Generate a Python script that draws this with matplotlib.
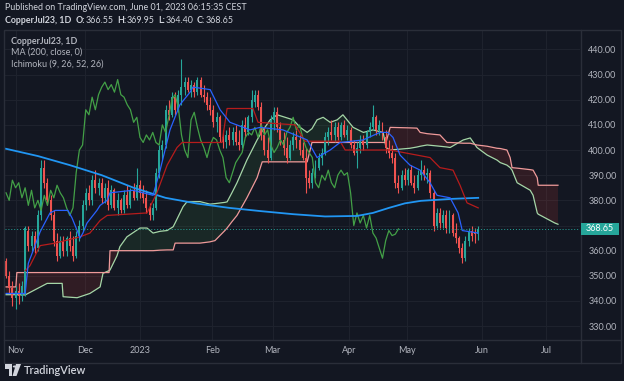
import numpy as np
import matplotlib.pyplot as plt
from matplotlib.patches import Rectangle, Polygon, Circle

# ---------------- data ----------------
opens = [356, 350, 345, 341, 344, 342, 343, 368, 362, 366,
         361, 374, 393, 387, 380, 374, 364, 358, 364, 360,
         365, 362, 358, 366, 370, 378, 383, 380, 388, 385,
         387, 381, 385, 378, 384, 377, 380, 376, 382, 378,
         384, 381, 386, 383, 381, 377, 374, 377, 391, 400,
         402, 416, 414, 421, 416, 422, 425, 427, 424, 426,
         423, 428, 422, 421, 418, 416, 411, 413, 405, 403,
         406, 404, 407, 403, 402, 410, 407, 413, 419, 422,
         417, 406, 400, 397, 412, 415, 409, 404, 401, 397,
         402, 405, 404, 400, 397, 389, 387, 391, 393, 397,
         399, 405, 407, 406, 409, 405, 410, 406, 408, 402,
         399, 401, 404, 402, 407, 409, 413, 408, 410, 405,
         401, 399, 397, 387, 385, 390, 388, 392, 387, 385,
         390, 392, 390, 391, 383, 370, 375, 371, 374, 369,
         374, 367, 365, 361, 357, 364, 368, 367, 366.55]
highs = [357, 352, 348, 346, 347, 348, 370, 370, 368, 368,
         376, 396, 396, 389, 382, 376, 367, 366, 366, 366,
         368, 366, 368, 372, 380, 385, 386, 390, 392, 389,
         389, 387, 388, 386, 385, 383, 381, 384, 386, 385,
         387, 393, 388, 386, 384, 379, 379, 393, 402, 404,
         418, 420, 423, 423, 424, 436, 429, 429, 428, 427,
         429, 429, 426, 423, 421, 418, 415, 414, 408, 408,
         409, 409, 410, 408, 412, 413, 414, 424, 424, 424,
         419, 409, 405, 414, 417, 417, 411, 407, 405, 404,
         407, 408, 406, 403, 401, 392, 393, 396, 399, 401,
         407, 409, 412, 411, 411, 411, 412, 410, 409, 404,
         403, 406, 406, 408, 411, 418, 414, 412, 411, 408,
         404, 402, 399, 390, 392, 393, 393, 394, 390, 392,
         396, 394, 393, 392, 384, 377, 377, 376, 376, 376,
         375, 371, 366, 363, 366, 369, 370, 369, 369.95]
lows = [349, 343, 338, 337, 339, 340, 342, 360, 360, 359,
        360, 372, 385, 378, 372, 362, 356, 357, 358, 358,
        360, 356, 357, 364, 368, 376, 378, 378, 383, 382,
        379, 379, 376, 377, 376, 374, 375, 375, 377, 377,
        380, 380, 381, 379, 375, 372, 372, 376, 389, 396,
        401, 412, 413, 414, 415, 418, 422, 423, 421, 421,
        422, 421, 419, 416, 414, 409, 407, 403, 401, 401,
        402, 402, 402, 400, 401, 405, 406, 411, 417, 416,
        404, 398, 395, 396, 408, 407, 402, 398, 395, 396,
        400, 401, 398, 396, 383, 385, 385, 389, 392, 394,
        398, 402, 404, 403, 404, 404, 405, 404, 401, 398,
        393, 399, 400, 401, 405, 408, 406, 406, 404, 399,
        397, 395, 385, 383, 384, 386, 386, 386, 383, 384,
        388, 388, 387, 381, 368, 369, 369, 369, 367, 367,
        366, 363, 359, 355, 356, 362, 364, 363, 364.40]
closes = [350, 345, 341, 344, 342, 346, 369, 362, 366, 361,
          374, 393, 387, 380, 374, 364, 358, 364, 360, 365,
          362, 358, 366, 370, 378, 383, 380, 388, 385, 387,
          381, 385, 378, 384, 377, 380, 376, 382, 378, 384,
          381, 386, 383, 381, 377, 374, 377, 391, 400, 402,
          416, 414, 421, 416, 422, 425, 427, 424, 426, 423,
          428, 422, 421, 418, 416, 411, 413, 405, 403, 406,
          404, 407, 403, 402, 410, 407, 413, 420, 422, 417,
          406, 400, 397, 412, 415, 409, 404, 401, 397, 402,
          405, 404, 400, 397, 389, 387, 391, 395, 397, 399,
          405, 407, 406, 409, 405, 410, 406, 408, 402, 399,
          401, 404, 402, 407, 409, 413, 408, 410, 405, 401,
          399, 397, 387, 385, 390, 388, 392, 387, 385, 390,
          392, 390, 391, 383, 370, 375, 371, 374, 369, 374,
          367, 365, 361, 357, 364, 368, 366, 366.55, 368.65]

# MA(200) read at a few bars
ma_bars = [0, 10, 20, 30, 40, 50, 60, 70, 80, 90, 100, 110, 115, 120, 125, 130, 140, 148]
ma_vals = [400.5, 397.6, 394, 390, 385, 381, 378.7, 377, 375.7, 374.5, 373.6, 373.8,
           375, 377, 378.8, 379.8, 380.6, 381]

# Ichimoku conversion (tenkan) and base (kijun) lines, read as vertices
tenkan_bars = [0, 6, 7, 8.5, 10.7, 13.8, 15.4, 19.4, 20.7, 22.3, 23.2, 24.1, 25.4, 28.5,
               29.5, 31.7, 32.6, 39.8, 46.1, 48.3, 51.4, 54.5, 57.7, 58.6, 64, 67.1, 70.2,
               76.5, 79.6, 86.8, 94.4, 97.5, 101.6, 104.7, 111.9, 117.2, 119.7, 121.3,
               123.5, 126.6, 129.8, 132.9, 135.1, 139.2, 141.7, 143, 148]
tenkan_vals = [343, 343, 355, 360, 367.5, 375, 376, 376, 373, 368, 365, 367, 371, 376,
               378, 380, 383, 384, 382, 392, 408, 418, 423, 425, 424, 416, 411,
               408, 409, 408, 404, 397, 400, 403, 404, 407, 407, 405,
               398, 394, 392, 387, 382, 381, 375, 368, 367]
kijun_bars = [6, 7.5, 10.7, 15.4, 23.2, 26.3, 29.5, 31.7, 44.2, 47.3, 50.5, 53.6, 55.2,
              67.7, 69.3, 77.4, 79, 90.6, 93.7, 104.7, 106.3, 120.4, 132.9, 136, 140.1,
              142.3, 144.5, 148]
kijun_vals = [352, 354, 362, 363, 365.5, 367, 372, 374, 375, 383, 394, 401, 403,
              403, 416.5, 416.5, 411, 410, 403.5, 403.5, 400, 400, 397, 393, 392,
              386, 379, 377]

# Leading spans A and B (cloud), read at shared bars
cloud_bars = [0, 3.1, 3.4, 6.0, 12.9, 17.6, 17.9, 22.3, 26.3, 29.5, 30.4, 32.3, 32.6,
              34.8, 35.7, 37.9, 42.0, 44.2, 46.1, 48.3, 50.5, 52.4, 53.0, 55.5, 56.7,
              60.8, 63.9, 65.5, 68.6, 69.3, 70.8, 72.4, 75.5, 78.7, 80.3, 82.8, 85.0,
              90.0, 92.2, 94.4, 95.9, 97.5, 99.4, 101.6, 103.8, 105.6, 108.8, 112.0,
              115.0, 118.2, 119.1, 120.4, 126.6, 128.8, 129.8, 132.0, 136.0, 138.2,
              139.2, 143.3, 145.5, 147.6, 150.8, 153.9, 154.9, 157.0, 158.0, 158.6,
              160.2, 164.3, 165.2, 166.5, 166.8, 168.3, 172.0, 173.0]
span_a = [342.5, 342.5, 342.5, 342.4, 347, 347, 341.7, 341.3, 343, 345.6, 351, 352.1, 352.3,
          358, 361.6, 365.5, 369, 369, 367, 367.7, 368, 369.5, 371, 377.5, 379.4,
          379.5, 378.5, 378.7, 379.2, 379.4, 383, 387, 396, 404, 407.5, 412, 414,
          412, 409, 407, 408.5, 412, 413, 411, 412, 414, 409, 407,
          408, 407, 401, 400, 400.7, 401.2, 401.5, 402, 401.5, 401.2,
          401, 404, 404.8, 401, 398, 396, 395, 394, 393, 392,
          387, 384, 382, 375, 374.5, 373.5, 371, 370.5]
span_b = [345.6, 345.6, 351.3, 351.3, 351.3, 351.3, 351.3, 351.3, 351.3, 351.3, 351.3, 351.3, 360,
          360, 360, 360, 360, 360, 360, 360.2, 360.3, 360.3, 363, 363, 363,
          363, 363.5, 364, 368, 369, 371.5, 374, 381, 389, 395.3, 395.3, 395.3,
          395.3, 395.3, 395.3, 403, 403, 403, 403, 403, 403, 403, 403,
          403, 403, 403, 409, 408.8, 408.7, 407, 406.5, 406, 403,
          403, 402.7, 402.7, 402, 401.5, 400.7, 400.6, 400, 397, 393,
          392.8, 392.2, 392, 389, 386, 386, 386, 386]

month_labels = ["Nov", "Dec", "2023", "Feb", "Mar", "Apr", "May", "Jun", "Jul"]
month_pos = [3.1, 24.8, 42.0, 64.6, 83.6, 107.5, 125.7, 149.2, 169.3]
price_ticks = list(range(330, 450, 10))
last_price = 368.65

header = "Published on TradingView.com, June 01, 2023 06:15:35 CEST"
symbol = "CopperJul23, 1D"
ohlc_keys = ["O:", "H:", "L:", "C:"]
ohlc_vals = ["366.55", "369.95", "364.40", "368.65"]
legend_lines = ["MA (200, close, 0)", "Ichimoku (9, 26, 52, 26)"]

# ---------------- styling ----------------
BG = "#131722"
BORDER = "#2a2e39"
GRID = "#1e222d"
TXT = "#b2b5be"
HEAD = "#d1d4dc"
UP = "#26a69a"
DN = "#ef5350"
FONT = ["Lato", "DejaVu Sans"]

W, H = 624, 381
fig = plt.figure(figsize=(W / 100, H / 100), dpi=100, facecolor=BG)
renderer = fig.canvas.get_renderer()


def fx(px):
    return px / W


def fy(py):
    return 1 - py / H


def text_w(t):
    return t.get_window_extent(renderer=renderer).width


ax = fig.add_axes([fx(5), fy(340), fx(580) - fx(5), fy(31) - fy(340)])
ax.set_facecolor(BG)
ax.set_xlim(-0.31, 179.9)
ax.set_ylim(324.5, 447.3)
for s in ax.spines.values():
    s.set_visible(False)

# ticks / grid (370.00 is hidden behind the last-price label in the reference)
ax.set_yticks(price_ticks)
ax.set_yticklabels(["" if abs(v - last_price) < 5 else f"{v:.2f}" for v in price_ticks],
                   fontfamily=FONT)
ax.set_xticks(month_pos)
ax.set_xticklabels(month_labels, fontfamily=FONT)
ax.yaxis.set_ticks_position("right")
ax.tick_params(axis="y", length=0, pad=6, labelcolor=TXT, labelsize=6.5)
ax.tick_params(axis="x", length=0, pad=4.5, labelcolor=TXT, labelsize=6.5)
ax.grid(True, color=GRID, lw=0.8, zorder=0)
ax.set_axisbelow(True)

o = np.array(opens, float)
h = np.array(highs, float)
l = np.array(lows, float)
c = np.array(closes, float)
x = np.arange(len(c))

# cloud
cb = np.array(cloud_bars)
sa = np.array(span_a)
sb = np.array(span_b)
ax.fill_between(cb, sa, sb, where=sa >= sb, interpolate=True, color="#43a047", alpha=0.13, lw=0, zorder=1)
ax.fill_between(cb, sa, sb, where=sa < sb, interpolate=True, color="#f44336", alpha=0.13, lw=0, zorder=1)
ax.plot(cb, sa, color="#a5d6a7", lw=0.9, zorder=2)
ax.plot(cb, sb, color="#ef9a9a", lw=0.9, zorder=2)

# candles
up = c >= o
col = np.where(up, UP, DN)
ax.vlines(x, l, h, colors=col, lw=0.8, zorder=3)
ax.bar(x, np.maximum(np.abs(c - o), 0.3), bottom=np.minimum(o, c), width=0.62,
       color=col, lw=0, zorder=3)

# indicators
ax.plot(x[25:] - 25, c[25:], color="#43a047", lw=0.9, zorder=4)
ax.plot(ma_bars, ma_vals, color="#2196f3", lw=1.3, zorder=4)
ax.plot(kijun_bars, kijun_vals, color="#b71c1c", lw=0.9, zorder=4)
ax.plot(tenkan_bars, tenkan_vals, color="#2962ff", lw=0.9, zorder=4)

# last price line
ax.axhline(last_price, color=UP, lw=0.7, ls=(0, (1, 2)), zorder=5)

# panel borders / separators
fig.add_artist(Rectangle((fx(4), fy(363)), fx(621) - fx(4), fy(30) - fy(363),
                         transform=fig.transFigure, fill=False, ec=BORDER, lw=1.0))
fig.add_artist(plt.Line2D([fx(580.5), fx(580.5)], [fy(30), fy(363)], transform=fig.transFigure,
                          color=BORDER, lw=1.0))
fig.add_artist(plt.Line2D([fx(4), fx(621)], [fy(340), fy(340)], transform=fig.transFigure,
                          color=BORDER, lw=1.0))

# price label box
yl = ax.transData.transform((0, last_price))[1]
py = H - yl
fig.add_artist(Rectangle((fx(581), fy(py + 6)), fx(619) - fx(581), fy(py - 6) - fy(py + 6),
                         transform=fig.transFigure, color=UP, lw=0, zorder=5))
fig.text(fx(600), fy(py), f"{last_price:.2f}", color="white", fontsize=6.5,
         ha="center", va="center", fontfamily=FONT, zorder=6)

# header texts
fig.text(fx(5), fy(8), header, color=HEAD, fontsize=6.4, va="center", fontfamily=FONT)

cur = 5.0
t = fig.text(fx(cur), fy(20.5), symbol, color=HEAD, fontsize=6.4, va="center",
             fontweight="bold", fontfamily=FONT)
cur += text_w(t) + 4
for k, v in zip(ohlc_keys, ohlc_vals):
    t = fig.text(fx(cur), fy(20.5), k, color=HEAD, fontsize=6.4, va="center",
                 fontweight="bold", fontfamily=FONT)
    cur += text_w(t) + 1
    t = fig.text(fx(cur), fy(20.5), v, color=HEAD, fontsize=6.4, va="center", fontfamily=FONT)
    cur += text_w(t) + 3

fig.text(fx(11), fy(41), symbol, color=TXT, fontsize=6.4, va="center",
         fontweight="bold", fontfamily=FONT)
for i, tx in enumerate(legend_lines):
    fig.text(fx(11), fy(52.5 + 11.5 * i), tx, color=TXT, fontsize=6.5, va="center", fontfamily=FONT)

# TradingView logo (simple shapes) + text
fig.add_artist(Rectangle((fx(5), fy(368.5)), fx(12) - fx(5), fy(364) - fy(368.5),
                         transform=fig.transFigure, color=HEAD, lw=0))
fig.add_artist(Rectangle((fx(8.5), fy(376)), fx(12) - fx(8.5), fy(364) - fy(376),
                         transform=fig.transFigure, color=HEAD, lw=0))
fig.add_artist(Circle((fx(14.5), fy(366.5)), 1.7 / W, transform=fig.transFigure,
                      color=HEAD, lw=0))
fig.add_artist(Polygon([(fx(16), fy(364)), (fx(21), fy(364)), (fx(16.5), fy(376)), (fx(12.5), fy(376))],
                       closed=True, transform=fig.transFigure, color=HEAD, lw=0))
fig.text(fx(24), fy(370), "TradingView", color=HEAD, fontsize=8, va="center",
         fontweight="semibold", fontfamily=FONT)

fig.savefig("out.png", dpi=100, facecolor=BG)
